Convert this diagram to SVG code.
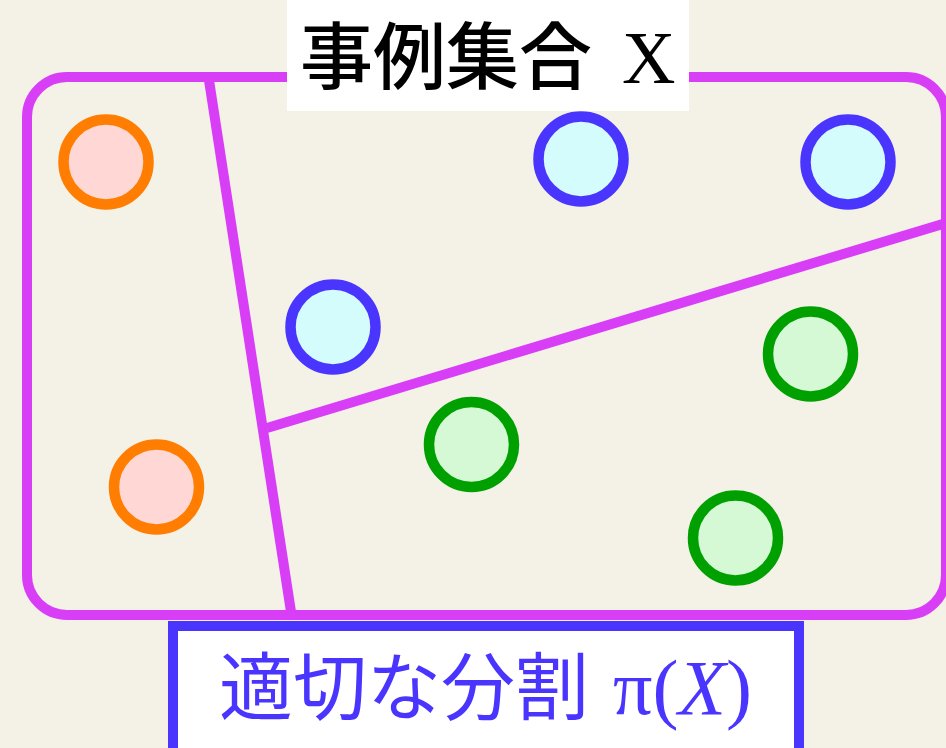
<svg xmlns="http://www.w3.org/2000/svg" width="946" height="748" viewBox="0 0 946 748">
<style>
.mag{fill:none;stroke:#d93ef7;stroke-width:10;stroke-linecap:butt}
.or{fill:#ffd8d6;stroke:#ff7d00;stroke-width:10.5}
.bl{fill:#d4fcfd;stroke:#4a35ff;stroke-width:10.5}
.gr{fill:#d4f9d4;stroke:#00a000;stroke-width:10.5}
.jp{font-family:"Noto Sans CJK JP","Noto Sans",sans-serif}
.ser{font-family:"Liberation Serif","Times New Roman",serif}
</style>
<rect x="0" y="0" width="946" height="748" fill="#f4f1e7"/>
<g id="set-x">
<rect class="mag" x="27" y="77" width="919" height="538" rx="40" ry="40"/>
</g>
<g id="partition-lines">
<line class="mag" x1="208.5" y1="77" x2="291.5" y2="615"/>
<line class="mag" x1="267" y1="428" x2="946" y2="223"/>
</g>
<g id="title">
<rect x="287" y="0" width="402" height="111" fill="#ffffff"/>
<text x="300" y="83" fill="#000"><tspan class="jp" font-size="73" font-weight="500">事例集合</tspan><tspan class="ser" font-size="74" dx="30">X</tspan></text>
</g>
<g id="orange-1"><circle class="or" cx="106" cy="162" r="42.5"/></g>
<g id="orange-2"><circle class="or" cx="156.5" cy="487" r="42.5"/></g>
<g id="blue-1"><circle class="bl" cx="581" cy="159" r="42.5"/></g>
<g id="blue-2"><circle class="bl" cx="848" cy="162" r="42.5"/></g>
<g id="blue-3"><circle class="bl" cx="333" cy="327" r="42.5"/></g>
<g id="green-1"><circle class="gr" cx="471.5" cy="444.5" r="42.5"/></g>
<g id="green-2"><circle class="gr" cx="810.5" cy="354" r="42.5"/></g>
<g id="green-3"><circle class="gr" cx="735.5" cy="538" r="42.5"/></g>
<g id="partition-label">
<rect x="173" y="626" width="626" height="140" fill="#ffffff" stroke="#4a35ff" stroke-width="10"/>
<text x="219" y="714" fill="#4a35ff"><tspan class="jp" font-size="74">適切な分割</tspan><tspan class="ser" font-size="78" dx="24">π(</tspan><tspan class="ser" font-size="78" font-style="italic">X</tspan><tspan class="ser" font-size="78">)</tspan></text>
</g>
</svg>
